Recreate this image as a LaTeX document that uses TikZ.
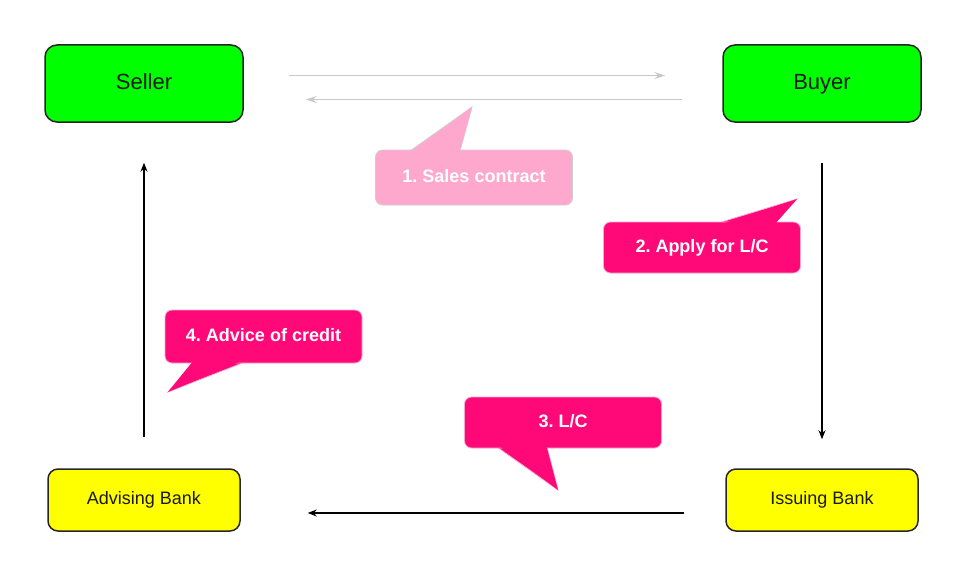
\documentclass[tikz,border=0pt]{standalone}
\usepackage{fontspec}
\setmainfont{Liberation Sans}
\usetikzlibrary{arrows.meta}
\frenchspacing
\definecolor{partygreen}{RGB}{0,255,0}
\definecolor{bankyellow}{RGB}{255,255,0}
\definecolor{notepink}{RGB}{255,8,120}
\definecolor{noteedge}{RGB}{245,170,205}
\definecolor{palepink}{RGB}{255,168,206}
\definecolor{paleedge}{RGB}{210,205,208}
\definecolor{contractgray}{RGB}{200,200,200}

\begin{document}
\begin{tikzpicture}[x=1pt,y=-1pt,
	party/.style={draw=black!85, line width=1.5pt, fill=partygreen, rounded corners=12pt,
		minimum width=198pt, minimum height=77pt, text height=16pt, text depth=4pt,
		text=black!90, font=\fontsize{22}{26}\selectfont},
	bank/.style={draw=black!85, line width=1.5pt, fill=bankyellow, rounded corners=10pt,
		minimum width=192pt, minimum height=62pt, text height=13pt, text depth=4pt,
		text=black!90, font=\fontsize{18}{22}\selectfont},
	note/.style={draw=noteedge, line width=0.8pt, fill=notepink, rounded corners=7pt,
		minimum width=197pt, minimum height=53pt, text height=13pt, text depth=3pt,
		text=white, font=\bfseries\fontsize{18}{22}\selectfont},
	pale note/.style={note, draw=paleedge, fill=palepink},
	flow/.style={-{Stealth[length=9pt,width=7pt]}, line width=1.4pt},
	contract/.style={-{Stealth[length=11pt,width=7pt,inset=4pt]}, line width=1.6pt, draw=contractgray}]
	\useasboundingbox (0,0) rectangle (960,578);
		\node [party] (seller) at (144,83.5) {Seller};
		\node [party] (buyer) at (822,83.5) {Buyer};
		\node [bank] (advising) at (144,500) {Advising Bank};
		\node [bank] (issuing) at (822,500) {Issuing Bank};
		\draw [contract, shorten <=45pt, shorten >=57pt] ([yshift=8pt]seller.east) to ([yshift=8pt]buyer.west);
		\draw [contract, shorten <=40pt, shorten >=62pt] ([yshift=-16pt]buyer.west) to ([yshift=-16pt]seller.east);
		\draw [flow, shorten <=40pt, shorten >=29pt] (buyer.south) to (issuing.north);
		\draw [flow, shorten <=41pt, shorten >=67pt] ([yshift=-13pt]issuing.west) to ([yshift=-13pt]advising.east);
		\draw [flow, shorten <=31pt, shorten >=40pt] (advising.north) to (seller.south);
		\coordinate (t1) at (472,107);
		\coordinate (t2) at (797,199);
		\coordinate (t3) at (558,490);
		\coordinate (t4) at (168,392);
		\draw [draw=paleedge, fill=palepink, line width=0.8pt] (410,151) -- (t1) -- (460,151) -- cycle;
		\draw [draw=noteedge, fill=notepink, line width=0.8pt] (718,223) -- (t2) -- (775,223) -- cycle;
		\draw [draw=noteedge, fill=notepink, line width=0.8pt] (497,447) -- (t3) -- (547,447) -- cycle;
		\draw [draw=noteedge, fill=notepink, line width=0.8pt] (193,362) -- (t4) -- (245,362) -- cycle;
		\node [pale note, minimum height=55pt] (c1) at (474,177.5) {1. Sales contract};
		\node [note, minimum height=51pt] (c2) at (702,247.5) {2. Apply for L/C};
		\node [note, minimum height=51pt] (c3) at (563,422.5) {3. L/C};
		\node [note] (c4) at (263.5,336.5) {4. Advice of credit};
		\fill [palepink] (411,153) -- (t1) -- (459,153) -- cycle;
		\fill [notepink] (719,225) -- (t2) -- (774,225) -- cycle;
		\fill [notepink] (498,445) -- (t3) -- (546,445) -- cycle;
		\fill [notepink] (194,360) -- (t4) -- (244,360) -- cycle;
\end{tikzpicture}
\end{document}
